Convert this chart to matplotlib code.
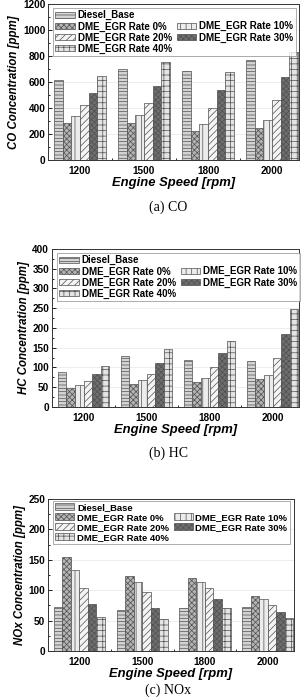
import matplotlib
matplotlib.use("Agg")
import matplotlib.pyplot as plt
import numpy as np
from matplotlib.patches import Patch

plt.rcParams['font.family'] = ['Liberation Sans', 'DejaVu Sans']
plt.rcParams['hatch.linewidth'] = 0.5

speeds = ['1200', '1500', '1800', '2000']
series = ['Diesel_Base', 'DME_EGR Rate 0%', 'DME_EGR Rate 10%',
          'DME_EGR Rate 20%', 'DME_EGR Rate 30%', 'DME_EGR Rate 40%']

co = [
    [617, 698, 688, 767],
    [283, 288, 225, 243],
    [339, 347, 281, 309],
    [422, 438, 400, 460],
    [514, 572, 536, 635],
    [648, 756, 675, 830],
]
hc = [
    [89, 130, 119, 116],
    [49, 58, 64, 70],
    [56, 69, 74, 82],
    [67, 83, 100, 124],
    [84, 111, 137, 185],
    [104, 147, 166, 248],
]
nox = [
    [72, 68, 70, 72],
    [154, 123, 120, 90],
    [133, 114, 114, 85],
    [103, 97, 104, 76],
    [77, 70, 85, 64],
    [56, 53, 70, 54],
]

styles = [
    dict(facecolor='#d4d4d4', hatch='-----'),
    dict(facecolor='#b4b4b4', hatch='xxxxxx'),
    dict(facecolor='#ececec', hatch='|||'),
    dict(facecolor='#f4f4f4', hatch='/////'),
    dict(facecolor='#6e6e6e', hatch='xxxxxx'),
    dict(facecolor='#e4e4e4', hatch='+++'),
]
edge = '#505050'
plt.rcParams['hatch.color'] = edge

fig = plt.figure(figsize=(3.06, 6.97), dpi=100)

panels = [
    (co, 'CO Concentration [ppm]', 1200, 200, [0.157, 0.7704, 0.820, 0.2238], '(a) CO', 0.703, 'center', 0.975, 7.0),
    (hc, 'HC Concentration [ppm]', 400, 50, [0.170, 0.4161, 0.807, 0.2267], '(b) HC', 0.350, 'center', 0.975, 7.0),
    (nox, 'NOx Concentration [ppm]', 250, 50, [0.157, 0.066, 0.804, 0.218], '(c) NOx', 0.0, 'bottom', 0.99, 6.8),
]

bw = 0.136
x = np.arange(len(speeds))
for data, ylab, ymax, step, pos, cap, capy, capva, legy, lfs in panels:
    ax = fig.add_axes(pos)
    for i, vals in enumerate(data):
        off = (i - 2.5) * bw
        ax.bar(x + off, vals, bw, edgecolor=edge, linewidth=0.5, zorder=3, **styles[i])
    ax.set_xlim(-0.5, 3.42)
    ax.set_ylim(0, ymax)
    ax.set_yticks(np.arange(0, ymax + 1, step))
    ax.set_yticks(np.arange(step / 2, ymax, step), minor=True)
    ax.set_xticks(x)
    ax.set_xticks(x[:-1] + 0.5, minor=True)
    ax.set_xticklabels(speeds)
    ax.grid(axis='y', color='#e6e6e6', linewidth=0.5, zorder=0)
    ax.tick_params(direction='in', which='both', labelsize=7.2, width=0.6)
    ax.tick_params(which='major', length=3)
    ax.tick_params(which='minor', length=1.6)
    ax.tick_params(axis='x', pad=4)
    ax.tick_params(axis='y', pad=2)
    for lab in ax.get_xticklabels() + ax.get_yticklabels():
        lab.set_fontweight('bold')
    for sp in ax.spines.values():
        sp.set_linewidth(0.7)
        sp.set_color('#333333')
    ax.set_xlabel('Engine Speed [rpm]', fontsize=9.4, fontweight='bold', style='italic', labelpad=1)
    ax.set_ylabel(ylab, fontsize=8.3, fontweight='bold', style='italic', labelpad=2)

    handles = [Patch(edgecolor=edge, linewidth=0.5, **s) for s in styles]
    blank = Patch(facecolor='none', edgecolor='none')
    hl = [handles[0], handles[1], handles[3], handles[5], blank, handles[2], handles[4], blank]
    ll = [series[0], series[1], series[3], series[5], '', series[2], series[4], '']
    leg = ax.legend(hl, ll, ncol=2, loc='upper left', bbox_to_anchor=(0.02, legy),
                    prop={'weight': 'bold', 'size': lfs},
                    handlelength=2.0, handleheight=0.65, handletextpad=0.3,
                    labelspacing=0.1, columnspacing=0.5, borderpad=0.25,
                    frameon=True, fancybox=False, edgecolor='#888888', borderaxespad=0)
    leg.get_frame().set_linewidth(0.6)
    leg.set_zorder(5)
    fig.text(0.55, capy, cap, ha='center', va=capva, fontsize=10, family='Liberation Serif')

fig.savefig('out.png', dpi=100)
